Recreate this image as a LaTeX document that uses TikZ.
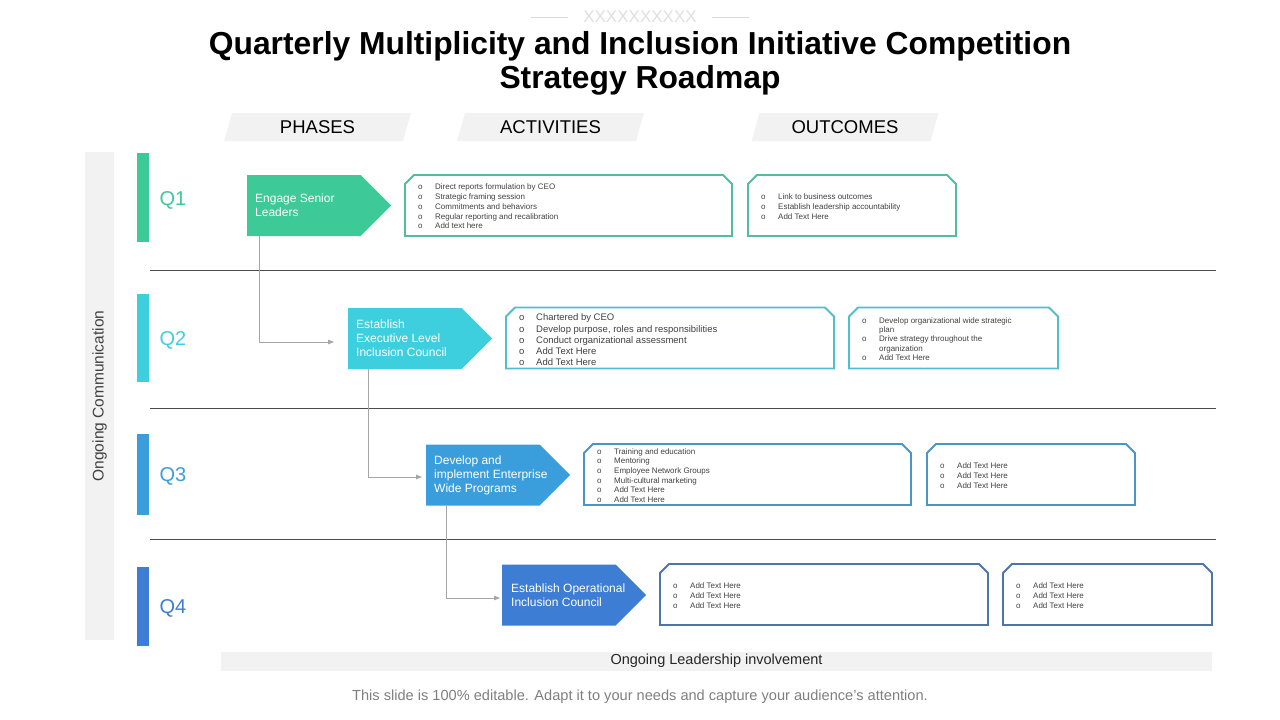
\documentclass[tikz,border=0pt]{standalone}
\usepackage{fontspec}
\setmainfont{Liberation Sans}
\usetikzlibrary{positioning, arrows.meta, shapes.symbols, backgrounds}
\definecolor{qgreen}{HTML}{3DC998}
\definecolor{qcyan}{HTML}{3DCFDE}
\definecolor{qblue}{HTML}{3A9EDC}
\definecolor{qnavy}{HTML}{3D7DD4}
\definecolor{bgreen}{HTML}{55BB9D}
\definecolor{bcyan}{HTML}{4EBFCB}
\definecolor{bblue}{HTML}{4A95C6}
\definecolor{bnavy}{HTML}{4F74A8}
\definecolor{panelgray}{HTML}{F2F2F2}
\definecolor{txtgray}{HTML}{404040}
\definecolor{notegray}{HTML}{7F7F7F}

\newcommand{\itm}{\makebox[17pt][l]{o}}
\newcommand{\cnt}{\hspace*{17pt}}
% outline with cut top corners round an empty node
\newcommand{\chamferbox}[2]{%
  \draw[chamferline=#2] (#1.south west) -- ([yshift=-9pt]#1.north west)
    -- ([xshift=9pt]#1.north west) -- ([xshift=-9pt]#1.north east)
    -- ([yshift=-9pt]#1.north east) -- (#1.south east) -- cycle;}
% slanted grey tab behind a heading node
\newcommand{\tabfill}[1]{%
  \fill[panelgray] ([xshift=4pt]#1.north west) -- ([xshift=4pt]#1.north east)
    -- ([xshift=-4pt]#1.south east) -- ([xshift=-4pt]#1.south west) -- cycle;}

\tikzset{
  phase/.style={signal, signal to=east, signal pointer angle=90, fill=#1,
    minimum width=144pt, minimum height=61pt, inner sep=0pt},
  phasetext/.style={anchor=west, align=left, text=white, inner sep=0pt,
    font=\fontsize{12}{14}\selectfont},
  listbox/.style={minimum height=61pt, inner sep=0pt, outer sep=0pt},
  chamferline/.style={draw=#1, line width=1.8pt, line join=miter},
  listtext/.style={anchor=west, align=left, inner sep=0pt, text=txtgray,
    font=\fontsize{8}{9.7}\selectfont},
  qbar/.style={fill=#1, minimum width=12pt, inner sep=0pt},
  qlabel/.style={text=#1, font=\fontsize{20}{24}\selectfont},
  headtab/.style={minimum width=179pt, minimum height=28pt, inner sep=0pt, outer sep=0pt,
    font=\fontsize{18.5}{22}\selectfont},
  conn/.style={draw=gray!70, line width=0.8pt, -{Triangle[length=6pt,width=4.5pt]}},
}

\begin{document}
\begin{tikzpicture}[x=1pt, y=-1pt]
  \useasboundingbox (0,0) rectangle (1280,720);

  % header
  \node[text=gray!25, font=\fontsize{17}{20}\selectfont] (deco) at (640,17) {XXXXXXXXXX};
  \draw[gray!30, line width=0.8pt] ([xshift=-12pt]deco.west) -- ++(-37,0);
  \draw[gray!30, line width=0.8pt] ([xshift=12pt]deco.east) -- ++(37,0);
  \node[font=\bfseries\fontsize{31.8}{34}\selectfont, align=center] (title) at (640,63)
    {Quarterly Multiplicity and Inclusion Initiative Competition\\Strategy Roadmap};

  \node[headtab] (phases) at (317.5,127) {PHASES};
  \node[headtab] (activities) at (550.5,127) {ACTIVITIES};
  \node[headtab] (outcomes) at (845,127) {OUTCOMES};
  \begin{scope}[on background layer]
    \tabfill{phases}
    \tabfill{activities}
    \tabfill{outcomes}
  \end{scope}

  % side and bottom bands
  \node[fill=panelgray, rotate=90, minimum width=488pt, minimum height=29pt, inner sep=0pt,
        text=txtgray, font=\fontsize{15.5}{18}\selectfont] (comm) at (99.5,396) {Ongoing Communication};
  \node[fill=panelgray, minimum width=991pt, minimum height=19pt, inner sep=0pt,
        text=black!85, font=\fontsize{14.5}{17}\selectfont] (lead) at (716.5,661) {Ongoing Leadership involvement};

  % quarters
  \node[qbar=qgreen, minimum height=89pt] (q1bar) at (143,197.5) {};
  \node[qbar=qcyan, minimum height=88pt] (q2bar) at (143,338) {};
  \node[qbar=qblue, minimum height=81pt] (q3bar) at (143,474.5) {};
  \node[qbar=qnavy, minimum height=79pt] (q4bar) at (143,606.5) {};
  \node[qlabel=qgreen] (q1) at (173,200.5) {Q1};
  \node[qlabel=qcyan] (q2) at (173,340.5) {Q2};
  \node[qlabel=qblue] (q3) at (173,476.5) {Q3};
  \node[qlabel=qnavy] (q4) at (173,608.5) {Q4};

  \draw[black!70, line width=0.7pt] (150,270) -- (1216,270);
  \draw[black!70, line width=0.7pt] (150,408) -- (1216,408);
  \draw[black!70, line width=0.7pt] (150,539) -- (1216,539);

  % phases
  \node[phase=qgreen, anchor=west] (p1) at (247,205.5) {};
  \node[phasetext] (p1t) at ([xshift=8pt]p1.west) {Engage Senior\\Leaders};
  \node[phase=qcyan, anchor=west] (p2) at (348,338.5) {};
  \node[phasetext] (p2t) at ([xshift=8pt]p2.west) {Establish\\Executive Level\\Inclusion Council};
  \node[phase=qblue, anchor=west] (p3) at (426,475) {};
  \node[phasetext] (p3t) at ([xshift=8pt]p3.west) {Develop and\\implement Enterprise\\Wide Programs};
  \node[phase=qnavy, anchor=west] (p4) at (502,595) {};
  \node[phasetext] (p4t) at ([xshift=9pt]p4.west) {Establish Operational\\Inclusion Council};

  \draw[conn] (p1.south west) ++(12,0) |- ([xshift=-14pt,yshift=-3.5pt]p2.west);
  \draw[conn] (p2.south west) ++(20,0) |- ([xshift=-4pt,yshift=-2pt]p3.west);
  \draw[conn] (p3.south west) ++(20,0) |- ([xshift=-2pt,yshift=-3pt]p4.west);

  % activities
  \node[listbox, minimum width=327pt] (a1) at (568.5,205.5) {};
  \chamferbox{a1}{bgreen}
  \node[listtext] (a1t) at ([xshift=13pt,yshift=-1pt]a1.west) {\itm Direct reports formulation by CEO\\
    \itm Strategic framing session\\\itm Commitments and behaviors\\
    \itm Regular reporting and recalibration\\\itm Add text here};
  \node[listbox, minimum width=328pt] (a2) at (670,338) {};
  \chamferbox{a2}{bcyan}
  \node[listtext, font=\fontsize{9.5}{11.2}\selectfont] (a2t) at ([xshift=13pt,yshift=-2pt]a2.west)
    {\itm Chartered by CEO\\\itm Develop purpose, roles and responsibilities\\
    \itm Conduct organizational assessment\\\itm Add Text Here\\\itm Add Text Here};
  \node[listbox, minimum width=327pt] (a3) at (747.5,474.5) {};
  \chamferbox{a3}{bblue}
  \node[listtext] (a3t) at ([xshift=13pt,yshift=-1pt]a3.west) {\itm Training and education\\\itm Mentoring\\
    \itm Employee Network Groups\\\itm Multi-cultural marketing\\\itm Add Text Here\\\itm Add Text Here};
  \node[listbox, minimum width=328pt] (a4) at (824,594.5) {};
  \chamferbox{a4}{bnavy}
  \node[listtext] (a4t) at ([xshift=13pt,yshift=-1pt]a4.west) {\itm Add Text Here\\\itm Add Text Here\\\itm Add Text Here};

  % outcomes
  \node[listbox, minimum width=208pt] (o1) at (852,205.5) {};
  \chamferbox{o1}{bgreen}
  \node[listtext] (o1t) at ([xshift=13pt,yshift=-1pt]o1.west) {\itm Link to business outcomes\\
    \itm Establish leadership accountability\\\itm Add Text Here};
  \node[listbox, minimum width=209pt] (o2) at (953.5,338) {};
  \chamferbox{o2}{bcyan}
  \node[listtext, font=\fontsize{8}{9.3}\selectfont] (o2t) at ([xshift=13pt,yshift=-1pt]o2.west)
    {\itm Develop organizational wide strategic\\\cnt plan\\\itm Drive strategy throughout the\\
    \cnt organization\\\itm Add Text Here};
  \node[listbox, minimum width=208pt] (o3) at (1031,474.5) {};
  \chamferbox{o3}{bblue}
  \node[listtext] (o3t) at ([xshift=13pt,yshift=-1pt]o3.west) {\itm Add Text Here\\\itm Add Text Here\\\itm Add Text Here};
  \node[listbox, minimum width=209pt] (o4) at (1107.5,594.5) {};
  \chamferbox{o4}{bnavy}
  \node[listtext] (o4t) at ([xshift=13pt,yshift=-1pt]o4.west) {\itm Add Text Here\\\itm Add Text Here\\\itm Add Text Here};

  \node[text=notegray, font=\fontsize{14.6}{17}\selectfont] (note) at (640,697)
    {This slide is 100\% editable. Adapt it to your needs and capture your audience's attention.};
\end{tikzpicture}
\end{document}
